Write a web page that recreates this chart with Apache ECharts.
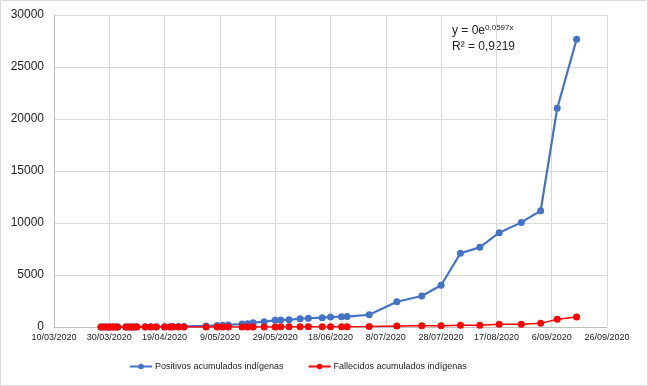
<!DOCTYPE html>
<html><head><meta charset="utf-8">
<script src="https://cdn.jsdelivr.net/npm/echarts@6/dist/echarts.min.js"></script>
<style>html,body{margin:0;padding:0;background:#fff}#c{width:648px;height:386px}</style>
</head><body><div id="c"></div>
<script>
const dates = [
 "2020-03-27","2020-03-28","2020-03-29","2020-03-30","2020-03-31","2020-04-01","2020-04-02",
 "2020-04-05","2020-04-06","2020-04-07","2020-04-08","2020-04-09",
 "2020-04-12","2020-04-14","2020-04-16","2020-04-19","2020-04-21","2020-04-22","2020-04-24","2020-04-26",
 "2020-05-04","2020-05-08","2020-05-10","2020-05-12","2020-05-17","2020-05-19","2020-05-21","2020-05-25",
 "2020-05-29","2020-05-31","2020-06-03","2020-06-07","2020-06-10","2020-06-15","2020-06-18","2020-06-22",
 "2020-06-24","2020-07-02","2020-07-12","2020-07-21","2020-07-28","2020-08-04","2020-08-11","2020-08-18",
 "2020-08-26","2020-09-02","2020-09-08","2020-09-15"
];
const positivos = [
 1,1,2,3,4,5,6,
 8,9,10,12,14,
 18,22,26,30,36,40,48,60,
 100,150,180,200,290,320,410,510,
 640,670,690,800,840,900,960,990,
 1000,1180,2430,2980,4010,7090,7660,9070,
 10060,11180,21030,27660
];
const fallecidos = [
 0,0,0,0,0,0,0,
 1,1,1,1,1,
 2,2,2,3,3,3,4,4,
 5,6,6,7,8,9,10,11,
 12,13,14,16,18,20,22,24,
 26,40,100,110,120,160,170,260,
 270,350,740,960
];
const xTicksStart = "2020-03-10";
const xTickStepDays = 20;
const xSpanDays = 200;
const yTicks = [0,5000,10000,15000,20000,25000,30000];

const base = Date.UTC(2020,2,10);
function dayNum(s){const p=s.split('-');return (Date.UTC(+p[0],+p[1]-1,+p[2])-base)/86400000;}
function fmt(d){const t=new Date(base+d*86400000);const dd=t.getUTCDate();const mm=String(t.getUTCMonth()+1).padStart(2,'0');return dd+'/'+mm+'/'+t.getUTCFullYear();}
const posData = dates.map((d,i)=>[dayNum(d),positivos[i]]);
const falData = dates.map((d,i)=>[dayNum(d),fallecidos[i]]);

const chart = echarts.init(document.getElementById('c'));
const FONT = '"Liberation Sans", Arial, sans-serif';
chart.setOption({
 animation:false,
 backgroundColor:'#fff',
 textStyle:{fontFamily:FONT},
 grid:{left:54,right:41,top:15,bottom:59,containLabel:false},
 xAxis:{type:'value',min:dayNum(xTicksStart),max:dayNum(xTicksStart)+xSpanDays,interval:xTickStepDays,
  axisLine:{show:true,lineStyle:{color:'#bfbfbf',width:1}},axisTick:{show:false},
  splitLine:{show:true,lineStyle:{color:'#d9d9d9',width:1}},
  axisLabel:{formatter:v=>fmt(v),color:'#222',fontSize:9,margin:6,fontFamily:FONT,showMinLabel:true,showMaxLabel:true}},
 yAxis:{type:'value',min:yTicks[0],max:yTicks[yTicks.length-1],interval:yTicks[1]-yTicks[0],
  axisLine:{show:true,lineStyle:{color:'#bfbfbf',width:1}},axisTick:{show:false},
  splitLine:{show:true,lineStyle:{color:'#d9d9d9',width:1}},
  axisLabel:{formatter:v=>String(v),color:'#222',fontSize:12,margin:10,fontFamily:FONT}},
 legend:{bottom:10,left:124,itemGap:24,itemWidth:22,itemHeight:7,
  textStyle:{fontSize:9,color:'#222',fontFamily:FONT,padding:[0,0,0,-2]},
  data:['Positivos acumulados indígenas','Fallecidos acumulados indígenas']},
 graphic:[
  {type:'rect',shape:{x:0.5,y:0.5,width:647,height:385},style:{fill:'none',stroke:'#d9d9d9',lineWidth:1},z:-1},
  {type:'text',left:452,top:24,style:{rich:{n:{fontSize:12,fontFamily:FONT,fill:'#222'},s:{fontSize:8,fontFamily:FONT,fill:'#222',verticalAlign:'top',padding:[0,0,6,0]}},text:'{n|y = 0e}{s|0,0597x}',font:'12px '+FONT}},
  {type:'text',left:452,top:41,style:{text:'R² = 0,9219',font:'12px '+FONT,fill:'#222'}}
 ],
 series:[
  {name:'Positivos acumulados indígenas',type:'line',data:posData,symbol:'circle',symbolSize:7,
   itemStyle:{color:'#4472C4'},lineStyle:{color:'#4472C4',width:2.2},z:2},
  {name:'Fallecidos acumulados indígenas',type:'line',data:falData,symbol:'circle',symbolSize:7,
   itemStyle:{color:'#FF0000'},lineStyle:{color:'#FF0000',width:1.5},z:3}
 ]
});
</script></body></html>
